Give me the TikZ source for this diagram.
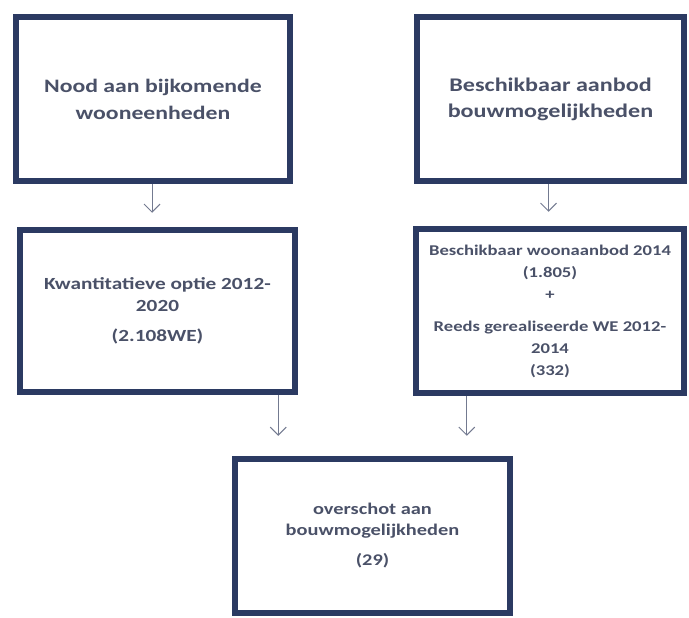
\documentclass[tikz,border=0pt]{standalone}
\usepackage{fontspec}
\setmainfont{Carlito}[FakeStretch=1.25]
\usepackage{tikz}
\usetikzlibrary{arrows.meta}

\definecolor{boxrand}{HTML}{2B3A62}
\definecolor{boxtekst}{HTML}{4A5168}
\definecolor{pijlkleur}{HTML}{737A90}

\tikzset{
	kader/.style={draw=boxrand, line width=6.5pt, fill=white, inner sep=0pt,
		align=center, text=boxtekst, font=\bfseries},
	pijl/.style={draw=pijlkleur, line width=1pt, -{Straight Barb[length=8pt, width=16pt]}},
}

\begin{document}
\begin{tikzpicture}[x=1pt, y=-1pt]
	%\draw[help lines] (0,0) grid[step=50] (689,618);
	\useasboundingbox (0,0) rectangle (689,618);
	\node[kader, minimum width=274pt, minimum height=164pt, font=\bfseries\fontsize{19}{27}\selectfont]
		(nood) at (153,99) {Nood aan bijkomende\\wooneenheden};
	\node[kader, minimum width=267pt, minimum height=164pt, font=\bfseries\fontsize{19.3}{26}\selectfont]
		(aanbod) at (550.5,99) {Beschikbaar aanbod\\bouwmogelijkheden};
	\node[kader, minimum width=275pt, minimum height=162pt, font=\bfseries\fontsize{17}{22}\selectfont]
		(optie) at (157.5,311) {Kwantitatieve optie 2012-\\2020\\[8pt](2.108WE)};
	\node[kader, minimum width=268pt, minimum height=164pt, font=\bfseries\fontsize{14.9}{22}\selectfont]
		(woon) at (550,311) {Beschikbaar woonaanbod 2014\\(1.805)\\+\\[10pt]Reeds gerealiseerde WE 2012-\\2014\\(332)};
	\node[kader, minimum width=275pt, minimum height=154pt, font=\bfseries\fontsize{16.3}{21}\selectfont]
		(overschot) at (372.5,536) {overschot aan\\bouwmogelijkheden\\[9pt](29)};

	\draw[pijl, shorten >=14pt] ([xshift=-1pt]nood.south) -- ([xshift=-1pt]nood.south |- optie.north);
	\draw[pijl, shorten >=14pt] ([xshift=-2pt]aanbod.south) -- ([xshift=-2pt]aanbod.south |- woon.north);
	\draw[pijl, shorten >=20pt] ([xshift=-20pt]optie.south east) -- ([xshift=-20pt]optie.south east |- overschot.north);
	\draw[pijl, shorten >=20pt] ([xshift=54pt]woon.south west) -- ([xshift=54pt]woon.south west |- overschot.north);
\end{tikzpicture}
\end{document}
